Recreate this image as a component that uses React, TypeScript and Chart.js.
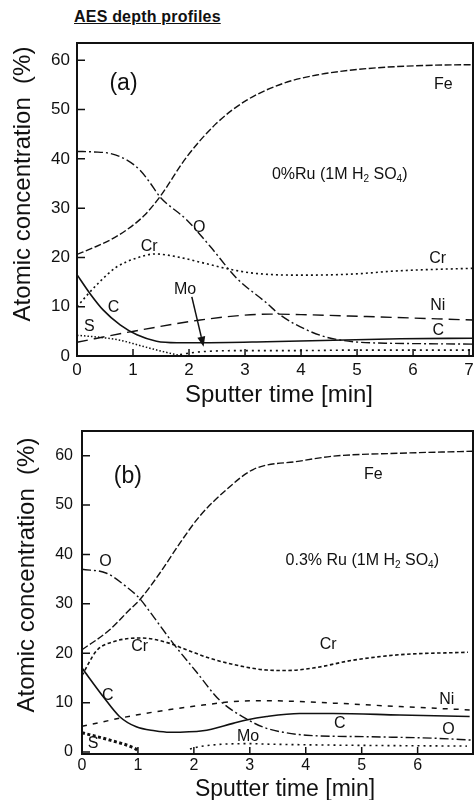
import React, { useEffect, useRef } from 'react';
import { Chart, registerables } from 'chart.js';

Chart.register(...registerables);

// ---------- Panel (a): 0% Ru ----------
const aXTicks = [0, 1, 2, 3, 4, 5, 6, 7];
const aYTicks = [0, 10, 20, 30, 40, 50, 60];
const aFeX = [0, 0.3, 0.6, 0.9, 1.2, 1.48, 1.96, 2.49, 3.03, 3.68, 4.28, 5.17, 6.36, 7.07];
const aFeY = [20.6, 22.0, 23.6, 25.7, 28.5, 32.3, 40.4, 47.2, 51.9, 55.3, 57.0, 58.3, 59.0, 59.1];
const aOX = [0, 0.3, 0.59, 0.9, 1.125, 1.3, 1.48, 1.96, 2.38, 2.85, 3.39, 3.63, 4.1, 4.46, 4.93, 5.5, 6.2, 7.07];
const aOY = [41.5, 41.4, 41.1, 39.7, 37.7, 35.2, 32.3, 27.6, 22.2, 15.8, 10.7, 8.3, 5.3, 3.8, 2.9, 2.6, 2.5, 2.4];
const aCrX = [0, 0.2, 0.4, 0.7, 1.07, 1.4, 1.84, 2.14, 2.73, 3.15, 3.98, 4.88, 5.77, 7.07];
const aCrY = [10.0, 12.6, 15.0, 18.0, 19.9, 20.7, 20.0, 19.2, 17.6, 16.8, 16.4, 16.6, 17.3, 17.8];
const aCX = [0, 0.23, 0.47, 0.77, 1.07, 1.42, 1.78, 2.2, 3.39, 4.58, 5.77, 7.07];
const aCY = [16.5, 12.7, 9.3, 6.3, 4.3, 3.0, 2.7, 2.7, 2.9, 3.2, 3.5, 3.6];
const aNiX = [0, 0.95, 2.2, 2.9, 3.45, 4.0, 5.17, 7.07];
const aNiY = [2.8, 4.9, 7.3, 8.2, 8.5, 8.4, 8.0, 7.3];
const aSX = [0, 0.4, 0.77, 1.1, 1.36, 1.72, 1.8];
const aSY = [4.2, 3.8, 3.2, 2.2, 1.4, 0.4, 0.2];
const aMoX = [1.84, 2.0, 2.26, 3.0, 4.0, 5.0, 6.0, 7.07];
const aMoY = [0.3, 0.6, 0.9, 1.1, 1.1, 1.2, 1.2, 1.2];
const aLabelText = ['Fe', 'O', 'Cr', 'Cr', 'C', 'Mo', 'Ni', 'C', 'S'];
const aLabelX = [6.54, 2.18, 1.29, 6.44, 0.65, 1.93, 6.44, 6.45, 0.22];
const aLabelY = [55.1, 26.0, 22.1, 19.7, 9.9, 13.5, 10.3, 5.1, 6.0];
const aArrowFrom = [2.05, 12.0];
const aArrowTo = [2.26, 1.9];

// ---------- Panel (b): 0.3% Ru ----------
const bXTicks = [0, 1, 2, 3, 4, 5, 6];
const bYTicks = [0, 10, 20, 30, 40, 50, 60];
const bFeX = [0, 0.49, 0.85, 1.03, 1.39, 1.75, 2.1, 2.58, 3.06, 3.89, 4.49, 5.68, 6.99];
const bFeY = [20.7, 24.7, 28.8, 30.8, 36.2, 42.3, 47.7, 53.1, 57.2, 58.9, 59.9, 60.5, 60.9];
const bOX = [0, 0.44, 0.79, 1.03, 1.2, 1.63, 2.04, 2.46, 2.97, 3.3, 3.6, 4.01, 5.09, 6.28, 6.99];
const bOY = [37.0, 36.2, 33.5, 31.1, 28.6, 22.0, 16.3, 10.5, 6.5, 4.8, 4.0, 3.4, 3.1, 2.8, 2.4];
const bCrX = [0, 0.26, 0.55, 1.06, 1.51, 1.87, 2.28, 2.88, 3.3, 3.65, 4.13, 4.85, 5.68, 6.9];
const bCrY = [15.5, 20.5, 22.3, 23.1, 22.2, 20.7, 19.0, 17.3, 16.6, 16.5, 17.0, 18.6, 19.7, 20.2];
const bCX = [0, 0.38, 0.67, 0.97, 1.3, 1.57, 2.16, 2.7, 2.94, 3.3, 3.89, 4.49, 5.68, 6.93];
const bCY = [17.0, 11.2, 7.2, 5.1, 4.3, 4.0, 4.3, 5.8, 6.5, 7.2, 7.8, 7.8, 7.5, 7.2];
const bNiX = [0, 0.97, 2.16, 2.7, 3.23, 4.49, 5.68, 6.99];
const bNiY = [5.2, 7.5, 9.5, 10.2, 10.4, 9.9, 9.2, 8.5];
const bSX = [0, 0.5, 0.94, 1.0];
const bSY = [3.9, 2.4, 0.75, 0.3];
const bMoX = [1.93, 2.1, 3.0, 3.3, 4.49, 6.88];
const bMoY = [0.6, 1.1, 1.7, 1.6, 1.4, 1.2];
const bLabelText = ['Fe', 'O', 'Cr', 'Cr', 'C', 'Ni', 'C', 'O', 'S', 'Mo'];
const bLabelX = [5.21, 0.42, 1.03, 4.4, 0.46, 6.52, 4.61, 6.55, 0.2, 2.97];
const bLabelY = [56.2, 38.6, 21.4, 21.7, 11.4, 10.7, 5.8, 4.5, 1.8, 3.2];

const TITLE = 'AES depth profiles';
const Y_TITLE = 'Atomic concentration  (%)';
const X_TITLE = 'Sputter time [min]';
const FONT = 'Arial, "Liberation Sans", Helvetica, sans-serif';
const INK = '#111';

type Seg = { t: string; sub?: boolean };
type Series = { x: number[]; y: number[]; dash: number[]; width: number };

interface Panel {
  series: Series[];
  xMax: number; yMin: number; yMax: number;
  xTicks: number[]; yTicks: number[];
  yAxisWidth: number; padTop: number; xAxisHeight: number;
  xTickFont: number; yTickFont: number; xTickPad: number; yTickPad: number;
  labelText: string[]; labelX: number[]; labelY: number[];
  tag: string; tagX: number; tagY: number;
  note: Seg[]; noteX: number; noteY: number;
  arrow?: { from: number[]; to: number[] };
  yTitleX: number; yTitleY: number; xTitleX: number; xTitleY: number; xTitleSize: number;
}

const noteSegsA: Seg[] = [{ t: '0%Ru (1M H' }, { t: '2', sub: true }, { t: ' SO' }, { t: '4', sub: true }, { t: ')' }];
const noteSegsB: Seg[] = [{ t: '0.3% Ru (1M H' }, { t: '2', sub: true }, { t: ' SO' }, { t: '4', sub: true }, { t: ')' }];

const panelA: Panel = {
  series: [
    { x: aFeX, y: aFeY, dash: [7, 2.5], width: 1.4 },
    { x: aOX, y: aOY, dash: [9, 3, 2, 3], width: 1.4 },
    { x: aCrX, y: aCrY, dash: [2, 3], width: 1.6 },
    { x: aCX, y: aCY, dash: [], width: 1.6 },
    { x: aNiX, y: aNiY, dash: [11, 6], width: 1.4 },
    { x: aSX, y: aSY, dash: [1.5, 2], width: 1.5 },
    { x: aMoX, y: aMoY, dash: [2, 4], width: 1.6 },
  ],
  xMax: 7.07, yMin: 0, yMax: 63.5, xTicks: aXTicks, yTicks: aYTicks,
  yAxisWidth: 77, padTop: 13, xAxisHeight: 54,
  xTickFont: 17, yTickFont: 17, xTickPad: 4, yTickPad: 7,
  labelText: aLabelText, labelX: aLabelX, labelY: aLabelY,
  tag: '(a)', tagX: 0.83, tagY: 55.3,
  note: noteSegsA, noteX: 3.48, noteY: 37.0,
  arrow: { from: aArrowFrom, to: aArrowTo },
  yTitleX: 30, yTitleY: 154, xTitleX: 279, xTitleY: 372, xTitleSize: 24,
};

const panelB: Panel = {
  series: [
    { x: bFeX, y: bFeY, dash: [7, 2.5], width: 1.4 },
    { x: bOX, y: bOY, dash: [9, 3, 2, 3], width: 1.4 },
    { x: bCrX, y: bCrY, dash: [3.5, 2.5], width: 1.6 },
    { x: bCX, y: bCY, dash: [], width: 1.6 },
    { x: bNiX, y: bNiY, dash: [5, 6], width: 1.5 },
    { x: bSX, y: bSY, dash: [3, 2.5], width: 3 },
    { x: bMoX, y: bMoY, dash: [2, 4], width: 1.6 },
  ],
  xMax: 6.99, yMin: -0.4, yMax: 65, xTicks: bXTicks, yTicks: bYTicks,
  yAxisWidth: 82, padTop: 11, xAxisHeight: 46,
  xTickFont: 16, yTickFont: 16, xTickPad: 2, yTickPad: 9,
  labelText: bLabelText, labelX: bLabelX, labelY: bLabelY,
  tag: '(b)', tagX: 0.82, tagY: 55.8,
  note: noteSegsB, noteX: 3.64, noteY: 38.8,
  yTitleX: 34, yTitleY: 155, xTitleX: 285, xTitleY: 376, xTitleSize: 23,
};

function makeOverlay(p: Panel) {
  return {
    id: 'overlay',
    afterDraw(chart: any) {
      const { ctx, chartArea: ca, scales } = chart;
      const xs = scales.x;
      const ys = scales.y;
      ctx.save();
      ctx.strokeStyle = INK;
      ctx.fillStyle = INK;
      // frame
      ctx.lineWidth = 2;
      ctx.strokeRect(ca.left, ca.top, ca.right - ca.left, ca.bottom - ca.top);
      // inward ticks
      ctx.lineWidth = 1.5;
      ctx.beginPath();
      ys.ticks.forEach((t: any) => {
        const py = ys.getPixelForValue(t.value);
        ctx.moveTo(ca.left, py);
        ctx.lineTo(ca.left + 8, py);
      });
      xs.ticks.forEach((t: any) => {
        const px = xs.getPixelForValue(t.value);
        ctx.moveTo(px, ca.bottom);
        ctx.lineTo(px, ca.bottom - 7);
      });
      ctx.stroke();
      // element labels
      ctx.font = `16px ${FONT}`;
      ctx.textAlign = 'center';
      ctx.textBaseline = 'middle';
      p.labelText.forEach((txt, i) => {
        ctx.fillText(txt, xs.getPixelForValue(p.labelX[i]), ys.getPixelForValue(p.labelY[i]));
      });
      // panel tag
      ctx.font = `23px ${FONT}`;
      ctx.fillText(p.tag, xs.getPixelForValue(p.tagX), ys.getPixelForValue(p.tagY));
      // note with subscripts
      let nx = xs.getPixelForValue(p.noteX);
      const ny = ys.getPixelForValue(p.noteY) + 5;
      ctx.textAlign = 'left';
      ctx.textBaseline = 'alphabetic';
      p.note.forEach((s) => {
        ctx.font = s.sub ? `10px ${FONT}` : `16px ${FONT}`;
        ctx.fillText(s.t, nx, s.sub ? ny + 3 : ny);
        nx += ctx.measureText(s.t).width;
      });
      // arrow
      if (p.arrow) {
        const x1 = xs.getPixelForValue(p.arrow.from[0]);
        const y1 = ys.getPixelForValue(p.arrow.from[1]);
        const x2 = xs.getPixelForValue(p.arrow.to[0]);
        const y2 = ys.getPixelForValue(p.arrow.to[1]);
        const ang = Math.atan2(y2 - y1, x2 - x1);
        const hl = 10, hw = 4;
        ctx.lineWidth = 1.5;
        ctx.beginPath();
        ctx.moveTo(x1, y1);
        ctx.lineTo(x2 - hl * Math.cos(ang), y2 - hl * Math.sin(ang));
        ctx.stroke();
        ctx.beginPath();
        ctx.moveTo(x2, y2);
        ctx.lineTo(x2 - hl * Math.cos(ang) + hw * Math.sin(ang), y2 - hl * Math.sin(ang) - hw * Math.cos(ang));
        ctx.lineTo(x2 - hl * Math.cos(ang) - hw * Math.sin(ang), y2 - hl * Math.sin(ang) + hw * Math.cos(ang));
        ctx.closePath();
        ctx.fill();
      }
      // axis titles
      ctx.font = `24px ${FONT}`;
      ctx.textAlign = 'center';
      ctx.textBaseline = 'alphabetic';
      ctx.save();
      ctx.translate(p.yTitleX, p.yTitleY);
      ctx.rotate(-Math.PI / 2);
      ctx.fillText(Y_TITLE, 0, 0);
      ctx.restore();
      ctx.font = `${p.xTitleSize}px ${FONT}`;
      ctx.fillText(X_TITLE, p.xTitleX, p.xTitleY);
      ctx.restore();
    },
  };
}

function makeConfig(p: Panel): any {
  return {
    type: 'line',
    data: {
      datasets: p.series.map((s) => ({
        data: s.x.map((x, i) => ({ x, y: s.y[i] })),
        borderColor: INK,
        borderWidth: s.width,
        borderDash: s.dash,
        pointRadius: 0,
        fill: false,
        cubicInterpolationMode: 'monotone',
      })),
    },
    options: {
      animation: false,
      responsive: false,
      devicePixelRatio: 1,
      layout: { padding: { left: 0, right: 1, top: p.padTop, bottom: 0 } },
      plugins: { legend: { display: false }, tooltip: { enabled: false } },
      scales: {
        x: {
          type: 'linear',
          min: 0,
          max: p.xMax,
          grid: { display: false, drawTicks: false },
          border: { display: false },
          afterBuildTicks: (s: any) => { s.ticks = p.xTicks.map((v) => ({ value: v })); },
          afterFit: (s: any) => { s.height = p.xAxisHeight; s.paddingLeft = 0; s.paddingRight = 0; },
          ticks: {
            color: INK,
            font: { family: FONT, size: p.xTickFont },
            padding: p.xTickPad,
            maxRotation: 0,
            autoSkip: false,
            callback: (v: any) => String(v),
          },
        },
        y: {
          type: 'linear',
          min: p.yMin,
          max: p.yMax,
          grid: { display: false, drawTicks: false },
          border: { display: false },
          afterBuildTicks: (s: any) => { s.ticks = p.yTicks.map((v) => ({ value: v })); },
          afterFit: (s: any) => { s.width = p.yAxisWidth; s.paddingTop = 0; s.paddingBottom = 0; },
          ticks: {
            color: INK,
            font: { family: FONT, size: p.yTickFont },
            padding: p.yTickPad,
            autoSkip: false,
            callback: (v: any) => String(v),
          },
        },
      },
    },
    plugins: [makeOverlay(p)],
  };
}

function PanelChart({ panel, top }: { panel: Panel; top: number }) {
  const ref = useRef<HTMLCanvasElement>(null);
  useEffect(() => {
    if (!ref.current) return;
    const chart = new Chart(ref.current, makeConfig(panel));
    return () => chart.destroy();
  }, [panel]);
  return (
    <canvas
      ref={ref}
      width={474}
      height={380}
      style={{ position: 'absolute', left: 0, top, width: 474, height: 380 }}
    />
  );
}

export default function App() {
  return (
    <div style={{ position: 'absolute', left: 0, top: 0, width: 474, height: 800, background: '#fff', overflow: 'hidden' }}>
      <div
        style={{
          position: 'absolute', left: 74, top: 9, fontFamily: FONT, fontWeight: 'bold',
          fontSize: 16, lineHeight: '16px', letterSpacing: '0.2px', textDecoration: 'underline',
          color: INK, whiteSpace: 'nowrap',
        }}
      >
        {TITLE}
      </div>
      <PanelChart panel={panelA} top={30} />
      <PanelChart panel={panelB} top={420} />
    </div>
  );
}
